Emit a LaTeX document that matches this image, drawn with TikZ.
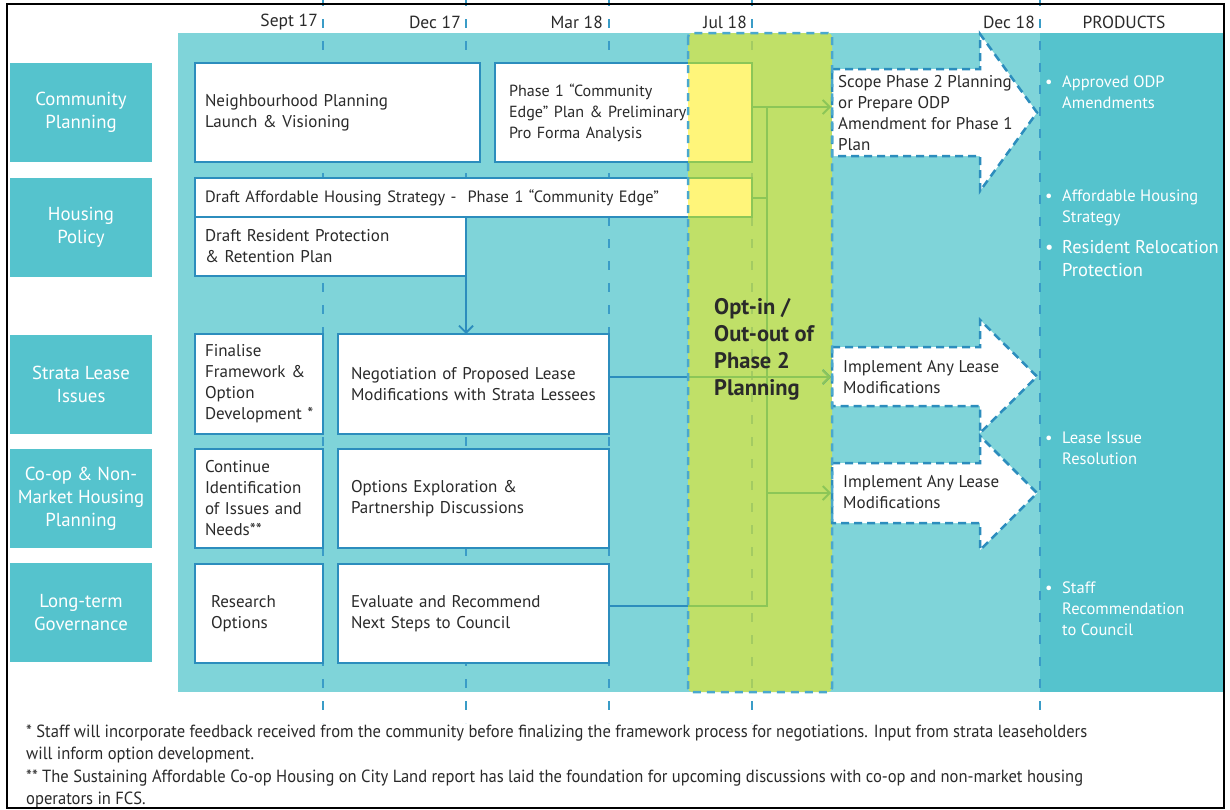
\documentclass[tikz,border=0pt]{standalone}
\usepackage{fontspec}
\setmainfont{PT Sans}
\newfontfamily\condfont[FakeStretch=0.94]{PT Sans}
\usetikzlibrary{arrows.meta}
\definecolor{tealbg}{HTML}{7FD4D9}
\definecolor{tealdk}{HTML}{55C3CD}
\definecolor{boxblue}{HTML}{2C8DBD}
\definecolor{dashblue}{HTML}{3A9CC7}
\definecolor{zoneblue}{HTML}{4AA8CE}
\definecolor{zonegreen}{HTML}{C0E068}
\definecolor{zoneyellow}{HTML}{FFF57A}
\definecolor{linegreen}{HTML}{8CC657}
\definecolor{julgreen}{HTML}{A3CB62}
\definecolor{txtdark}{HTML}{2A2A2A}
\newcommand\zonedraw[2]{%
  \draw[conn,#1] #2;
  \begin{scope}
    \clip[rounded corners=4pt] (zoneA) rectangle (zoneB);
    \draw[conn,draw=linegreen,#1] #2;
  \end{scope}}
\begin{document}
\begin{tikzpicture}[x=1pt,y=-1pt,
  lab/.style={fill=tealdk, text=white, minimum width=142pt, minimum height=99pt,
    inner sep=0pt, outer sep=0pt, align=center, anchor=north west,
    font=\fontsize{18.8}{23}\selectfont},
  box/.style={draw=boxblue, line width=2.5pt, fill=white, anchor=north west,
    inner ysep=0pt, outer sep=0pt, align=left, text=txtdark,
    font=\fontsize{17}{21}\selectfont},
  tline/.style={draw=dashblue, line width=2.5pt, dash pattern=on 9pt off 13pt},
  conn/.style={draw=boxblue, line width=2pt},
  gconn/.style={draw=linegreen, line width=2pt},
  tipb/.style={-{Straight Barb[length=7pt,width=14pt,line width=1.8pt]}},
  dasharrow/.style={fill=white, draw=boxblue, line width=2.5pt, dash pattern=on 8pt off 5pt},
  zoneborder/.style={draw=zoneblue, line width=2.5pt, dash pattern=on 8pt off 6pt},
  arrtxt/.style={anchor=west, inner sep=0pt, align=left, text=txtdark,
    font=\fontsize{17}{21}\selectfont},
  prod/.style={anchor=west, inner sep=0pt, align=left, text=white,
    font=\fontsize{16.5}{21}\selectfont},
  hdr/.style={inner sep=0pt, text=txtdark, font=\fontsize{17.5}{20}\selectfont},
  optxt/.style={anchor=west, inner sep=0pt, align=left, text=txtdark,
    font=\bfseries\fontsize{22.5}{27}\selectfont},
  foot/.style={anchor=west, inner sep=0pt, align=left, text=txtdark,
    font=\condfont\fontsize{17.6}{22.2}\selectfont}]
\useasboundingbox (0,0) rectangle (1230,809);
\fill[white] (0,0) rectangle (1230,809);
% backgrounds
\fill[tealbg] (178,33) rectangle (1040,692);
\fill[tealdk] (1040,33) rectangle (1223,692);
% timeline lines
\foreach \x in {323,466,609,752,1040} \draw[tline] (\x,-3) -- (\x,723);
% opt-in zone
\coordinate (zoneA) at (688,33);
\coordinate (zoneB) at (832,692);
\fill[zonegreen, rounded corners=4pt] (zoneA) rectangle (zoneB);
\draw[tline, draw=julgreen, dash phase=16pt] (752,35) -- (752,690);
% fills of the two boxes that enter the zone
\fill[white] (495,63) rectangle (688,162);
\fill[zoneyellow] (688,63) rectangle (752,162);
\fill[white] (195,178) rectangle (688,217);
\fill[zoneyellow] (688,178) rectangle (752,217);
% row labels
\node[lab] (Lcp) at (10,63) {Community\\Planning};
\node[lab] (Lhp) at (10,178) {Housing\\Policy};
\node[lab] (Lsl) at (10,335) {Strata Lease\\Issues};
\node[lab] (Lco) at (10,449) {Co-op \& Non-\\Market Housing\\Planning};
\node[lab] (Llt) at (10,563) {Long-term\\Governance};
% boxes
\node[box, minimum width=285pt, minimum height=99pt, text width=265pt, inner xsep=10pt] (NPL) at (195,63) {Neighbourhood Planning\\Launch \& Visioning};
\node[box, fill=none, minimum width=257pt, minimum height=99pt, text width=229pt, inner xsep=14pt, font=\fontsize{16.1}{21}\selectfont] (Phase1) at (495,63) {Phase 1 “Community\\Edge” Plan \& Preliminary\\Pro Forma Analysis};
\node[box, fill=none, minimum width=557pt, minimum height=39pt, text width=537pt, inner xsep=10pt, font=\fontsize{16.4}{21}\selectfont] (DraftAH) at (195,178) {Draft Affordable Housing Strategy -~ Phase 1 “Community Edge”};
\node[box, minimum width=271pt, minimum height=59pt, text width=251pt, inner xsep=10pt] (DraftRP) at (195,217) {Draft Resident Protection\\\& Retention Plan};
\node[box, minimum width=128pt, minimum height=100pt, text width=108pt, inner xsep=10pt] (Fin) at (195,334) {Finalise\\Framework~\&\\Option\\Development~*};
\node[box, minimum width=271pt, minimum height=100pt, text width=245pt, inner xsep=13pt] (Neg) at (338,334) {Negotiation of Proposed Lease\\Modifications with Strata Lessees};
\node[box, minimum width=128pt, minimum height=99pt, text width=108pt, inner xsep=10pt] (Cont) at (195,449) {Continue\\Identification\\of~Issues~and\\Needs**};
\node[box, minimum width=271pt, minimum height=99pt, text width=245pt, inner xsep=13pt] (Opt) at (338,449) {Options Exploration \&\\Partnership Discussions};
\node[box, minimum width=128pt, minimum height=99pt, text width=96pt, inner xsep=16pt] (Res) at (195,564) {Research\\Options};
\node[box, minimum width=271pt, minimum height=99pt, text width=245pt, inner xsep=13pt] (Eval) at (338,564) {Evaluate and Recommend\\Next Steps to Council};
% green borders of the yellow parts
\draw[linegreen, line width=2.7pt] (zoneA |- Phase1.north) -- (Phase1.north east) -- (Phase1.south east) -- (zoneA |- Phase1.south);
\draw[linegreen, line width=2.7pt] (zoneA |- DraftAH.north) -- (DraftAH.north east) -- (DraftAH.south east) -- (zoneA |- DraftAH.south);
% outcome arrows
\draw[dasharrow] (832,69) -- (980,69) -- (980,34) -- (1037,112.5) -- (980,191) -- (980,156) -- (832,156) -- cycle;
\draw[dasharrow] (832,347) -- (980,347) -- (980,320) -- (1037,376.5) -- (980,433) -- (980,406) -- (832,406) -- cycle;
\draw[dasharrow] (832,463) -- (980,463) -- (980,436) -- (1037,493) -- (980,550) -- (980,523) -- (832,523) -- cycle;
\node[arrtxt] (ScopeT) at (838,113.5) {Scope Phase 2 Planning\\or Prepare ODP\\Amendment for Phase 1\\Plan};
\node[arrtxt] (Impl1T) at (843,377.5) {Implement Any Lease\\Modifications};
\node[arrtxt] (Impl2T) at (843,492.5) {Implement Any Lease\\Modifications};
% connectors
\coordinate (bustop) at (767,107);
\coordinate (busbot) at (767,606);
\coordinate (ScopeIn) at (831,107);
\coordinate (Impl1In) at (831,377);
\coordinate (Impl2In) at (831,493);
\draw[conn, tipb] (DraftRP.north east) -- (DraftRP.east |- Neg.north);
\zonedraw{}{(Eval.east |- busbot) -- (busbot) -- (bustop)}
\draw[gconn, tipb] (Phase1.east |- bustop) -- (ScopeIn);
\draw[gconn] (DraftAH.east) -- (DraftAH.east -| bustop);
\zonedraw{tipb}{(Neg.east |- Impl1In) -- (Impl1In)}
\draw[gconn, tipb] (bustop |- Impl2In) -- (Impl2In);
% zone border and label
\draw[zoneborder, rounded corners=4pt] (zoneA) rectangle (zoneB);
\node[optxt] (OptIn) at (714,349.5) {Opt-in /\\Out-out of\\Phase 2\\Planning};
% products
\node[prod] (P1) at (1045,92) {\makebox[17pt][l]{•}Approved ODP\\\hspace*{17pt}Amendments};
\node[prod] (P2) at (1045,207.5) {\makebox[17pt][l]{•}Affordable Housing\\\hspace*{17pt}Strategy};
\node[prod, font=\fontsize{18.5}{23}\selectfont] (P3) at (1045,258.5) {\makebox[17pt][l]{•}Resident Relocation\\\hspace*{17pt}Protection};
\node[prod] (P4) at (1045,448.5) {\makebox[17pt][l]{•}Lease Issue\\\hspace*{17pt}Resolution};
\node[prod] (P5) at (1045,609) {\makebox[17pt][l]{•}Staff\\\hspace*{17pt}Recommendation\\\hspace*{17pt}to Council};
% header
\node[hdr, anchor=east] (hS) at (318,22) {Sept 17};
\node[hdr, anchor=east] (hD) at (461,22) {Dec 17};
\node[hdr, anchor=east] (hM) at (603,22) {Mar 18};
\node[hdr, anchor=east] (hJ) at (747,22) {Jul 18};
\node[hdr, anchor=east] (hD2) at (1035,22) {Dec 18};
\node[hdr] (hP) at (1124,22) {PRODUCTS};
% footnotes
\node[foot] (Foot) at (26,766.5) {* Staff will incorporate feedback received from the community before finalizing the framework process for negotiations. Input from strata leaseholders\\will inform option development.\\** The Sustaining Affordable Co-op Housing on City Land report has laid the foundation for upcoming discussions with co-op and non-market housing\\operators in FCS.};
% frame
\draw[black, line width=2pt] (7,4) rectangle (1224,808);
\end{tikzpicture}
\end{document}
